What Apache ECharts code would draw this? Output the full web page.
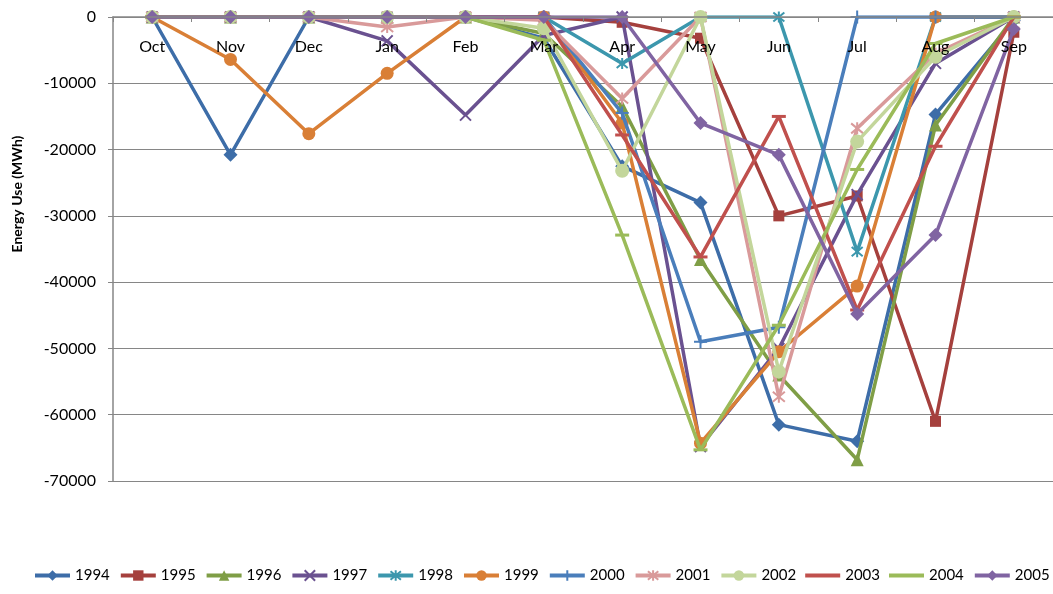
<!DOCTYPE html>
<html>
<head>
<meta charset="utf-8">
<script src="https://cdn.jsdelivr.net/npm/echarts@6/dist/echarts.min.js"></script>
<style>html,body{margin:0;padding:0;background:#fff}#c{width:1053px;height:594px}</style>
</head>
<body>
<div id="c"></div>
<script>
var months = ['Oct','Nov','Dec','Jan','Feb','Mar','Apr','May','Jun','Jul','Aug','Sep'];
var yTicks = [0,-10000,-20000,-30000,-40000,-50000,-60000,-70000];
var years = ['1994','1995','1996','1997','1998','1999','2000','2001','2002','2003','2004','2005'];
var s1994 = [0,-20800,0,0,0,-3200,-22500,-28000,-61500,-64000,-14700,-500];
var s1995 = [0,0,0,0,0,0,-800,-3200,-30000,-27000,-61000,-2300];
var s1996 = [0,0,0,0,0,-2500,-13500,-36600,-54000,-66800,-16300,0];
var s1997 = [0,0,0,-3600,-14800,-2800,0,-64800,-50000,-26800,-7000,0];
var s1998 = [0,0,0,0,0,0,-7000,0,0,-35400,0,0];
var s1999 = [0,-6400,-17600,-8500,0,0,-16000,-64300,-50500,-40600,0,0];
var s2000 = [0,0,0,0,0,0,-14500,-49000,-46800,0,0,0];
var s2001 = [0,0,0,-1500,0,-500,-12300,0,-57300,-16800,-5500,0];
var s2002 = [0,0,0,0,0,-1700,-23200,0,-53500,-18800,-6000,0];
var s2003 = [0,0,0,0,0,0,-17800,-36200,-15000,-44200,-19500,0];
var s2004 = [0,0,0,0,0,-3500,-32900,-65300,-46500,-23000,-4000,0];
var s2005 = [0,0,0,0,0,0,0,-16000,-20800,-44800,-32900,-1800];
var seriesData = [s1994,s1995,s1996,s1997,s1998,s1999,s2000,s2001,s2002,s2003,s2004,s2005];

var colors = ['#3D6DA8','#A5403D','#7F9E46','#6A5190','#3C97AD','#D97F36',
              '#4A7EBB','#D99A9A','#C3D69B','#C0504D','#9BBB59','#8064A2'];
var SYM_X = 'path://M0,0L10,10M10,0L0,10';
var SYM_AST = 'path://M0,0L10,10M10,0L0,10M5,-1L5,11';
var SYM_PLUS = 'path://M5,0L5,10M0,5L10,5';
var SYM_DASH = 'path://M0,0L10,0L10,2L0,2Z';
var symbols = ['diamond','rect','triangle',SYM_X,SYM_AST,'circle',SYM_PLUS,SYM_AST,'circle',SYM_DASH,SYM_DASH,'diamond'];
var sizes = [14,11,13,11,11,13,13,12,14,[14,3],[14,3],14];
var strokeOnly = [false,false,false,true,true,false,true,true,false,false,false,false];

var FONT = 'Lato, "Liberation Sans", sans-serif';

var series = years.map(function(y,i){
  return {
    name: y,
    type: 'line',
    data: seriesData[i],
    symbol: symbols[i],
    symbolSize: sizes[i],
    showAllSymbol: true,
    z: 2 + i,
    lineStyle: {color: colors[i], width: 3.5},
    itemStyle: {color: colors[i], borderColor: colors[i], borderWidth: strokeOnly[i] ? 2 : 0},
    emphasis: {disabled: true},
    animation: false
  };
});

var legendData = years.map(function(y,i){
  if (i === 9 || i === 10) {
    return {name: y, icon: 'path://M0,0L36,0L36,4L0,4Z'};
  }
  return {name: y};
});

var chart = echarts.init(document.getElementById('c'), null, {renderer: 'canvas'});
chart.setOption({
  animation: false,
  color: colors,
  grid: {left: 113, top: 17, width: 941, height: 464, containLabel: false},
  legend: {
    data: legendData,
    bottom: 6,
    left: 28,
    width: 1025,
    itemWidth: 35,
    itemHeight: 13,
    itemGap: 9,
    lineStyle: {width: 4},
    textStyle: {fontFamily: FONT, fontSize: 15, color: '#000'}
  },
  xAxis: {
    type: 'category',
    data: months,
    position: 'top',
    boundaryGap: true,
    z: 30,
    axisLine: {onZero: false, lineStyle: {color: '#868686', width: 1.5}},
    axisTick: {show: true, inside: true, length: 5, lineStyle: {color: '#868686'}},
    axisLabel: {inside: true, margin: 22, fontFamily: FONT, fontSize: 16, color: '#000'},
    splitLine: {show: false}
  },
  yAxis: {
    type: 'value',
    min: -70000,
    max: 0,
    interval: 10000,
    axisLine: {show: true, lineStyle: {color: '#868686', width: 1.5}},
    axisTick: {show: true, length: 5, lineStyle: {color: '#868686'}},
    axisLabel: {margin: 17, fontFamily: FONT, fontSize: 16, color: '#000',
      formatter: function(v){ return yTicks.indexOf(v) >= 0 ? String(v) : ''; }},
    splitLine: {show: true, lineStyle: {color: '#868686', width: 1}}
  },
  graphic: [{
    type: 'text',
    x: 17, y: 194,
    rotation: Math.PI / 2,
    style: {text: 'Energy Use (MWh)', textAlign: 'center', textVerticalAlign: 'middle',
      font: 'bold 14px ' + FONT, fill: '#000'}
  }],
  series: series
});
</script>
</body>
</html>
